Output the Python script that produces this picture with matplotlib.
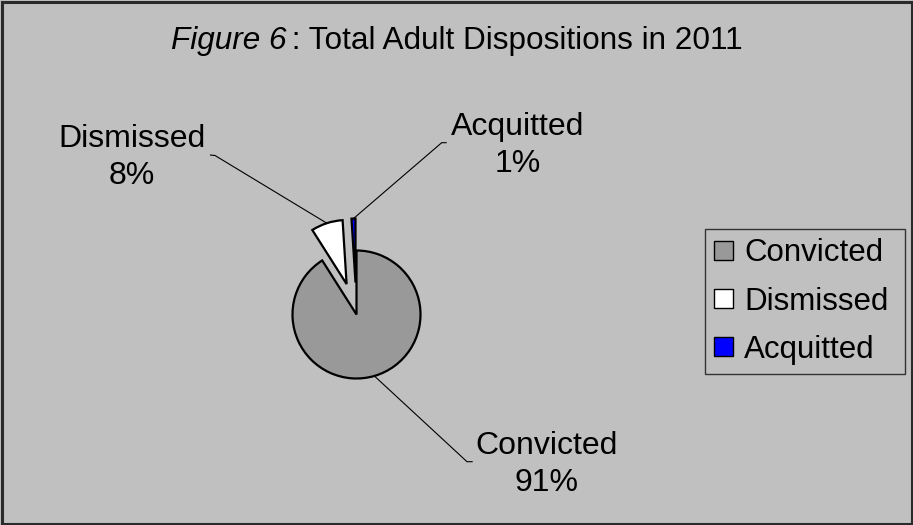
import matplotlib
matplotlib.use("Agg")
import matplotlib.pyplot as plt
from matplotlib.patches import Rectangle, Patch
import numpy as np

# Disposition data (percent of total adult dispositions)
categories = ["Convicted", "Dismissed", "Acquitted"]
shares = [91, 8, 1]
colors = ["#999999", "#FFFFFF", "#0000FF"]
explode = [0.0, 0.5, 0.5]

title_italic = "Figure 6"
title_rest = " : Total Adult Dispositions in 2011"

W, H, DPI = 913, 525, 100
BG = "#C0C0C0"
FONT = "Liberation Sans"

# pie placement in pixels (from top-left)
CX, CY, R = 356.5, 314.5, 64.0

fig = plt.figure(figsize=(W / DPI, H / DPI), dpi=DPI, facecolor=BG)
ax = fig.add_axes([0, 0, 1, 1])
ax.set_facecolor(BG)


def px(x, y):
    """pixel (from top-left) -> data coordinates of the pie axes"""
    return (x - CX) / R, (CY - y) / R


wedges, _ = ax.pie(shares, colors=colors, explode=explode, startangle=90,
                   counterclock=False, radius=1.0,
                   wedgeprops=dict(edgecolor="black", linewidth=1.6))
ax.set_xlim(px(0, 0)[0], px(W, 0)[0])
ax.set_ylim(px(0, H)[1], px(0, 0)[1])
ax.set_aspect("auto")
ax.axis("off")

# data labels with leader lines
label_pos = {"Convicted": (547, 464.5), "Dismissed": (132, 157.5), "Acquitted": (518, 145.5)}
leader_elbow = {"Convicted": [(467, 461.7), (472.7, 461.7)],
                "Dismissed": [(215, 155.5), (210, 155)],
                "Acquitted": [(441.7, 142.7), (446.7, 142.7)]}

for w, cat, val in zip(wedges, categories, shares):
    mid = np.deg2rad((w.theta1 + w.theta2) / 2)
    cx, cy = w.center
    sx, sy = cx + w.r * np.cos(mid), cy + w.r * np.sin(mid)
    pts = [(sx, sy)] + [px(*p) for p in leader_elbow[cat]]
    xs, ys = zip(*pts)
    ax.plot(xs, ys, color="black", linewidth=0.8, solid_capstyle="butt")
    lx, ly = px(*label_pos[cat])
    ax.text(lx, ly, f"{cat}\n{val}%", ha="center", va="center",
            fontsize=23, family=FONT, linespacing=1.3, color="black")

# title: italic figure number followed by regular text
renderer = fig.canvas.get_renderer()
ty = 1 - 49.3 / H
t1 = fig.text(0, ty, title_italic, fontsize=22.7, family=FONT, style="italic",
              ha="left", va="baseline")
t2 = fig.text(0, ty, title_rest, fontsize=22.7, family=FONT,
              ha="left", va="baseline")
w1 = t1.get_window_extent(renderer).width
w2 = t2.get_window_extent(renderer).width
x0 = 456.7 - (w1 + w2 - 3) / 2
t1.set_x(x0 / W)
t2.set_x((x0 + w1 - 3) / W)

# legend
handles = [Patch(facecolor=c, edgecolor="black", linewidth=1.0) for c in colors]
leg = fig.legend(handles, categories, loc="upper left", mode="expand",
                 bbox_to_anchor=(705 / W, 1 - 229 / H, 200 / W, 0),
                 borderaxespad=0,
                 prop=dict(family=FONT, size=22.5), frameon=True, fancybox=False,
                 facecolor=BG, edgecolor="#333333", framealpha=1,
                 handlelength=0.58, handleheight=0.58, handletextpad=0.38,
                 labelspacing=0.58, borderpad=0.3)
leg.get_frame().set_linewidth(1.0)

# outer chart border
fig.patches.append(Rectangle((1.5 / W, 1.5 / H), 1 - 3 / W, 1 - 3 / H,
                             transform=fig.transFigure, fill=False,
                             edgecolor="#2a2a2a", linewidth=2.2))

fig.savefig("out.png", dpi=DPI, facecolor=BG)
